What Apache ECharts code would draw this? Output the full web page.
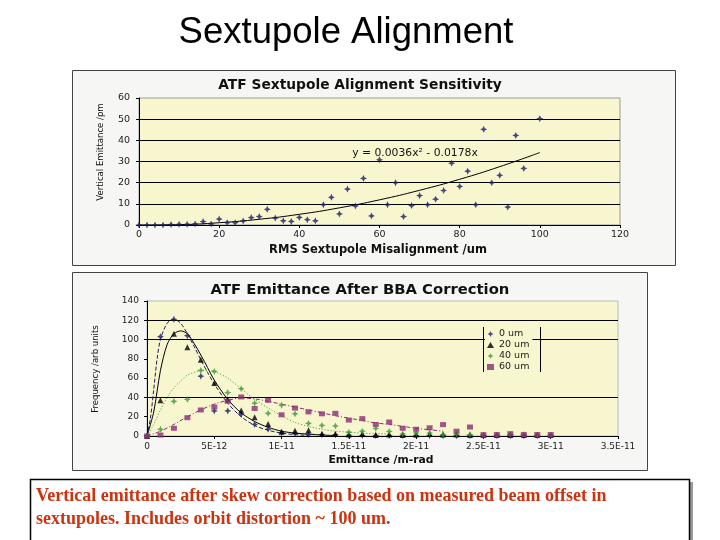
<!DOCTYPE html>
<html><head><meta charset="utf-8">
<script src="https://cdn.jsdelivr.net/npm/echarts@6/dist/echarts.min.js"></script>
<style>html,body{margin:0;padding:0;background:#fff;}#c{width:720px;height:540px;}</style>
</head><body><div id="c"></div>
<script>
// ---- Top chart: ATF Sextupole Alignment Sensitivity ----
const misalignX = [0,2,4,6,8,10,12,14,16,18,20,22,24,26,28,30,32,34,36,38,40,42,44,46,48,50,52,54,56,58,60,62,64,66,68,70,72,74,76,78,80,82,84,86,88,90,92,94,96,100];
const emittanceY = [0,0,0,0,0.2,0.3,0.3,0.5,1.6,0.5,2.8,1.1,1.1,1.9,3.5,4,7.4,3.3,2,1.7,3.6,2.5,2,9.6,13.1,5.2,17,9,22,4.3,30.8,9.6,20,4,9.2,13.9,9.6,12.2,16.3,29.2,18.2,25.4,9.6,45.2,20,23.5,8.5,42.3,26.7,50.2];
const trendX = [0,10,20,30,40,50,60,70,80,90,100];
const trendY = [0,0.18,1.08,2.71,5.05,8.11,11.89,16.39,21.6,27.56,34.22];
const topXTicks = {min:0, max:120, interval:20};
const topYTicks = {min:0, max:60, interval:10};

// ---- Bottom chart: ATF Emittance After BBA Correction (x in units of 1E-12 m-rad) ----
const emitX = [0,1,2,3,4,5,6,7,8,9,10,11,12,13,14,15,16,17,18,19,20,21,22,23,24,25,26,27,28,29,30];
const seriesNames = ['0 um','20 um','40 um','60 um'];
const freq0  = [0,103,121,104,62,26,26,22.5,12,7,3.5,2.5,1.5,1.5,1.2,0.8,0.5,0.5,0.5,0.5,0.5,0.3,0.3,0.3,0.3,0.3,0.3,0.3,0.3,0.3,0.3];
const freq20 = [0,37,106,92,79,55,38,26.5,19.5,12.5,4.5,5.5,6,2,2,1.5,2,1,1.5,1,1.5,2,1.5,1.5,1,1,1,1,1,1,1];
const freq40 = [0,7,36,38,68,67,45,49,34,23.5,32,23,13,11,10.5,4,5,7.8,4.7,2.2,3.2,3,1.5,2,1.5,1,1,1.5,1.5,1,1];
const freq60 = [0,1,8,19,27,30,36,40.5,28.5,37,22,29,25,23,23.5,16.5,18,12,14.5,8,7,8.5,11.8,5,9.3,1.4,1.5,2.4,1.5,1.5,1.5];
const fit0X = [0,0.25,0.5,0.75,1,1.5,2,2.5,3,3.5,4,4.5,5,6,7,8,9,10,11,12];
const fit0Y = [0,18,48,80,100,117,121,117,106,93,79,66,54,34,20,11,6,3,1.5,0.5];
const fit20X = [0,0.5,1,1.5,2,2.5,3,3.5,4,4.5,5,6,7,8,9,10,11,12,13,14];
const fit20Y = [0,25,68,95,106,109,106,96,84,71,58,38,24,15,9,5,3,2,1,0.5];
const fit40X = [0,0.5,1,1.5,2,2.5,3,3.5,4,4.5,5,6,7,8,9,10,11,12,13,14,15,16,17,18];
const fit40Y = [0,12,27,40,50,57,63,66,68,68,67,60,49,38,29,21,14,10,7,5,4,3,2.5,2];
const fit60X = [0,1,2,3,4,5,6,7,8,9,10,11,12,13,14,15,16,17,18,19,20,21,22];
const fit60Y = [0,5,12,20,27,33,37,39.5,38.5,36,33,30,27,24,21,18.5,16,13.5,12,10,8,6.5,5];
const botXTicks = {min:0, max:35, interval:5};
const botYTicks = {min:0, max:140, interval:20};

const zip = (xs, ys) => xs.map((x, i) => [x, ys[i]]);
const star = 'path://M0,-5 L1.6,-1.6 L5,0 L1.6,1.6 L0,5 L-1.6,1.6 L-5,0 L-1.6,-1.6 Z';
const navy = '#1c1c68', green = '#3a9a3a', purple = '#8a2d74';
const plotBg = '#F8F6CF';
const boxBg = '#F6F7F5';
const lab = {fontFamily:'DejaVu Sans, sans-serif', fontSize:9, color:'#222'};
const expFmt = v => {
  if (v === 0) return '0';
  const e = Math.floor(Math.log10(v));
  const m = +(v / Math.pow(10, e)).toFixed(3);
  return m + 'E' + (e - 12);
};
const clear = 'rgba(0,0,0,0)';

const chart = echarts.init(document.getElementById('c'), null, {width:720, height:540});
chart.setOption({
  animation: false,
  backgroundColor: '#fff',
  textStyle: {fontFamily: 'DejaVu Sans, sans-serif'},
  graphic: [
    {type:'rect', silent:true, z:-10, shape:{x:72.5,y:70.5,width:603,height:195}, style:{fill:boxBg, stroke:'#444', lineWidth:1}},
    {type:'rect', silent:true, z:-10, shape:{x:72.5,y:272.5,width:575,height:198}, style:{fill:boxBg, stroke:'#444', lineWidth:1}},
    {type:'rect', silent:true, z:-10, shape:{x:33,y:482,width:660,height:70}, style:{fill:'#9a9a9a'}},
    {type:'rect', silent:true, z:-9, shape:{x:30.5,y:479.5,width:659,height:70}, style:{fill:'#fff', stroke:'#000', lineWidth:1.5}},
    {type:'text', silent:true, x:346, y:33, style:{text:'Sextupole Alignment', font:'36.5px "Liberation Sans", Arial, sans-serif', fill:'#000', align:'center', verticalAlign:'middle'}},
    {type:'text', silent:true, x:360, y:85, style:{text:'ATF Sextupole Alignment Sensitivity', font:'bold 13.8px "DejaVu Sans", sans-serif', fill:'#111', align:'center', verticalAlign:'middle'}},
    {type:'text', silent:true, x:378, y:250, style:{text:'RMS Sextupole Misalignment /um', font:'bold 11.5px "DejaVu Sans", sans-serif', fill:'#111', align:'center', verticalAlign:'middle'}},
    {type:'text', silent:true, x:101, y:152, rotation:Math.PI/2, style:{text:'Vertical Emittance /pm', font:'9.5px "Liberation Sans Narrow", "DejaVu Sans Condensed", sans-serif', fill:'#111', align:'center', verticalAlign:'middle'}},
    {type:'text', silent:true, x:415, y:153, style:{text:'y = 0.0036x\u00B2 - 0.0178x', font:'10.8px "DejaVu Sans", sans-serif', fill:'#111', align:'center', verticalAlign:'middle'}},
    {type:'text', silent:true, x:360, y:290, style:{text:'ATF Emittance After BBA Correction', font:'bold 14.8px "DejaVu Sans", sans-serif', fill:'#111', align:'center', verticalAlign:'middle'}},
    {type:'text', silent:true, x:381, y:460, style:{text:'Emittance /m-rad', font:'bold 10.8px "DejaVu Sans", sans-serif', fill:'#111', align:'center', verticalAlign:'middle'}},
    {type:'text', silent:true, x:96, y:369, rotation:Math.PI/2, style:{text:'Frequency /arb units', font:'9.5px "Liberation Sans Narrow", "DejaVu Sans Condensed", sans-serif', fill:'#111', align:'center', verticalAlign:'middle'}},
    {type:'line', silent:true, z:20, shape:{x1:483.5,y1:327,x2:483.5,y2:372}, style:{stroke:'#000', lineWidth:1}},
    {type:'line', silent:true, z:20, shape:{x1:540.5,y1:327,x2:540.5,y2:372}, style:{stroke:'#000', lineWidth:1}},
    {type:'text', silent:true, x:36, y:496, style:{text:'Vertical emittance after skew correction based on measured beam offset in', font:'bold 18px "Liberation Serif", "Times New Roman", serif', fill:'#CC3311', verticalAlign:'middle'}},
    {type:'text', silent:true, x:36, y:519, style:{text:'sextupoles. Includes orbit distortion ~ 100 um.', font:'bold 18px "Liberation Serif", "Times New Roman", serif', fill:'#CC3311', verticalAlign:'middle'}}
  ],
  grid: [
    {left:139, top:98, width:481, height:127, show:true, backgroundColor:plotBg, borderColor:'#999', borderWidth:1},
    {left:147, top:301, width:471, height:135, show:true, backgroundColor:plotBg, borderColor:'#bbb', borderWidth:1}
  ],
  xAxis: [
    {type:'value', gridIndex:0, min:topXTicks.min, max:topXTicks.max, interval:topXTicks.interval,
     axisLine:{show:true, onZero:false, lineStyle:{color:'#000', width:1}}, axisTick:{show:true, length:3, lineStyle:{color:'#000'}},
     axisLabel:{...lab, fontSize:9.5, margin:5}, splitLine:{show:false}},
    {type:'value', gridIndex:1, min:botXTicks.min, max:botXTicks.max, interval:botXTicks.interval,
     axisLine:{show:true, onZero:false, lineStyle:{color:'#000', width:1}}, axisTick:{show:true, length:3, lineStyle:{color:'#000'}},
     axisLabel:{...lab, margin:6, formatter:expFmt}, splitLine:{show:false}}
  ],
  yAxis: [
    {type:'value', gridIndex:0, min:topYTicks.min, max:topYTicks.max, interval:topYTicks.interval,
     axisLine:{show:true, lineStyle:{color:'#000', width:1}}, axisTick:{show:true, length:3, lineStyle:{color:'#000'}},
     axisLabel:{...lab, fontSize:9.5, margin:9},
     splitLine:{show:true, showMinLine:false, showMaxLine:false, lineStyle:{color:'#000', width:1}}},
    {type:'value', gridIndex:1, min:botYTicks.min, max:botYTicks.max, interval:botYTicks.interval,
     axisLine:{show:true, lineStyle:{color:'#000', width:1}}, axisTick:{show:true, length:3, lineStyle:{color:'#000'}},
     axisLabel:{...lab, margin:8},
     splitLine:{show:true, showMinLine:true, showMaxLine:true, lineStyle:{color:[clear,clear,'#000',clear,clear,'#000','#000',clear], width:1}}}
  ],
  legend: {
    orient:'vertical', left:485, top:328, data:seriesNames,
    itemWidth:7, itemHeight:6, itemGap:1, padding:[1,3,1,2],
    backgroundColor:plotBg, borderWidth:0,
    textStyle:{fontFamily:'DejaVu Sans, sans-serif', fontSize:9.5, color:'#222', lineHeight:10}
  },
  series: [
    {type:'scatter', xAxisIndex:0, yAxisIndex:0, data:zip(misalignX, emittanceY), symbol:star, symbolSize:7, itemStyle:{color:navy}, z:5},
    {type:'line', xAxisIndex:0, yAxisIndex:0, data:zip(trendX, trendY), smooth:true, showSymbol:false, lineStyle:{color:'#000', width:1}, z:4},

    {type:'line', name:'fit0', xAxisIndex:1, yAxisIndex:1, data:zip(fit0X, fit0Y), smooth:0.3, showSymbol:false, lineStyle:{color:navy, width:1, type:[4,2]}, z:3},
    {type:'line', name:'fit20', xAxisIndex:1, yAxisIndex:1, data:zip(fit20X, fit20Y), smooth:0.3, showSymbol:false, lineStyle:{color:'#000', width:1}, z:3},
    {type:'line', name:'fit40', xAxisIndex:1, yAxisIndex:1, data:zip(fit40X, fit40Y), smooth:0.3, showSymbol:false, lineStyle:{color:green, width:1, type:[1,2]}, z:3},
    {type:'line', name:'fit60', xAxisIndex:1, yAxisIndex:1, data:zip(fit60X, fit60Y), smooth:0.3, showSymbol:false, lineStyle:{color:purple, width:1, type:[4,2,1,2]}, z:3},

    {type:'scatter', name:seriesNames[0], xAxisIndex:1, yAxisIndex:1, data:zip(emitX, freq0), symbol:star, symbolSize:7, itemStyle:{color:navy}, z:6},
    {type:'scatter', name:seriesNames[1], xAxisIndex:1, yAxisIndex:1, data:zip(emitX, freq20), symbol:'triangle', symbolSize:6, itemStyle:{color:'#000'}, z:6},
    {type:'scatter', name:seriesNames[2], xAxisIndex:1, yAxisIndex:1, data:zip(emitX, freq40), symbol:star, symbolSize:7, itemStyle:{color:green}, z:6},
    {type:'scatter', name:seriesNames[3], xAxisIndex:1, yAxisIndex:1, data:zip(emitX, freq60), symbol:'rect', symbolSize:[6,5], itemStyle:{color:purple}, z:6}
  ]
});
</script></body></html>
